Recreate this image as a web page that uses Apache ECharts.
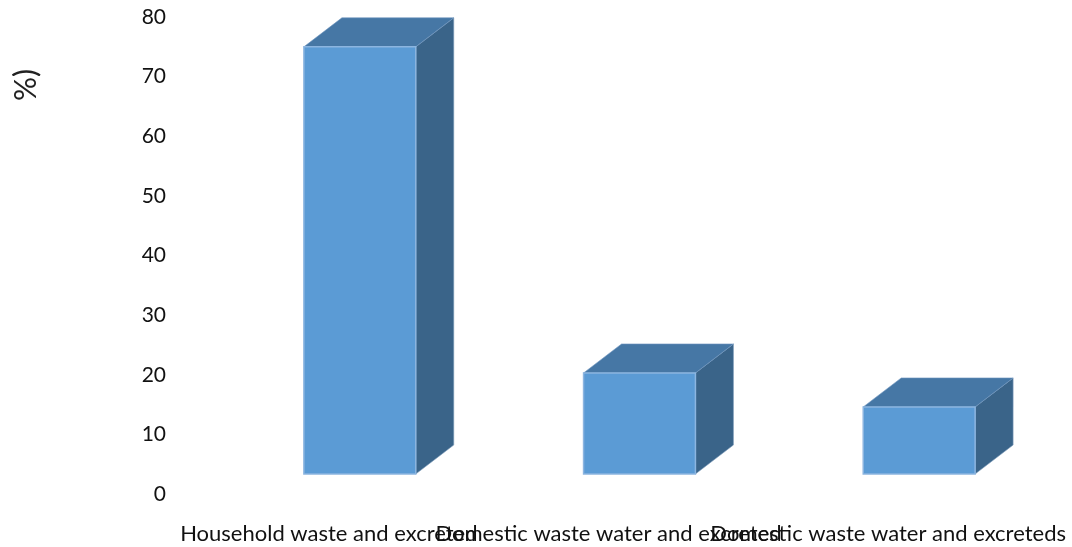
<!DOCTYPE html>
<html>
<head>
<meta charset="utf-8">
<script src="https://cdn.jsdelivr.net/npm/echarts@6/dist/echarts.min.js"></script>
<style>
html,body{margin:0;padding:0;background:#fff;}
#chart{width:1072px;height:547px;}
</style>
</head>
<body>
<div id="chart"></div>
<script>
const categories = ["Household waste and excreted", "Domestic waste water and excreted", "Domestic waste water and excreteds"];
const values = [75, 20.3, 14.6];
const yTicks = [0, 10, 20, 30, 40, 50, 60, 70, 80];
const axisTitle = "%)";

const chart = echarts.init(document.getElementById('chart'));
const FONT = 'Lato';
const DX = 38, DY = 29, FLOOR = 20, SHIFT = 31;

chart.setOption({
  animation: false,
  grid: { left: 189, right: 44, top: 17, bottom: 53, containLabel: false },
  xAxis: {
    type: 'category',
    data: categories,
    axisLine: { show: false },
    axisTick: { show: false },
    axisLabel: { interval: 0, hideOverlap: false, margin: 29, fontFamily: FONT, fontSize: 22, color: '#111' }
  },
  yAxis: {
    type: 'value',
    min: yTicks[0], max: yTicks[yTicks.length - 1], interval: 10,
    axisLine: { show: false },
    axisTick: { show: false },
    splitLine: { show: false },
    axisLabel: { margin: 23, fontFamily: FONT, fontSize: 21, color: '#111' }
  },
  graphic: [{
    type: 'text',
    x: 11, y: 101,
    rotation: Math.PI / 2,
    style: { text: axisTitle, font: '30px ' + FONT, fill: '#222' }
  }],
  series: [{
    type: 'custom',
    data: values.map((v, i) => [i, v]),
    encode: { x: 0, y: 1 },
    renderItem: function (params, api) {
      const p = api.coord([api.value(0), api.value(1)]);
      const b = api.coord([api.value(0), 0]);
      const w = api.size([1, 0])[0] * 0.4;
      const cx = p[0] + SHIFT;
      const l = cx - w / 2, r = cx + w / 2;
      const top = p[1], bot = b[1] - FLOOR;
      return {
        type: 'group',
        children: [
          { type: 'polygon', shape: { points: [[r, top], [r + DX, top - DY], [r + DX, bot - DY], [r, bot]] },
            style: { fill: '#3A6489', stroke: '#7E9CBB', lineWidth: 0.6 } },
          { type: 'polygon', shape: { points: [[l, top], [l + DX, top - DY], [r + DX, top - DY], [r, top]] },
            style: { fill: '#4677A5', stroke: '#6F95BF', lineWidth: 0.6 } },
          { type: 'rect', shape: { x: l, y: top, width: w, height: bot - top },
            style: { fill: '#5B9BD5', stroke: '#8CB5E0', lineWidth: 1.5 } }
        ]
      };
    }
  }]
});
</script>
</body>
</html>
